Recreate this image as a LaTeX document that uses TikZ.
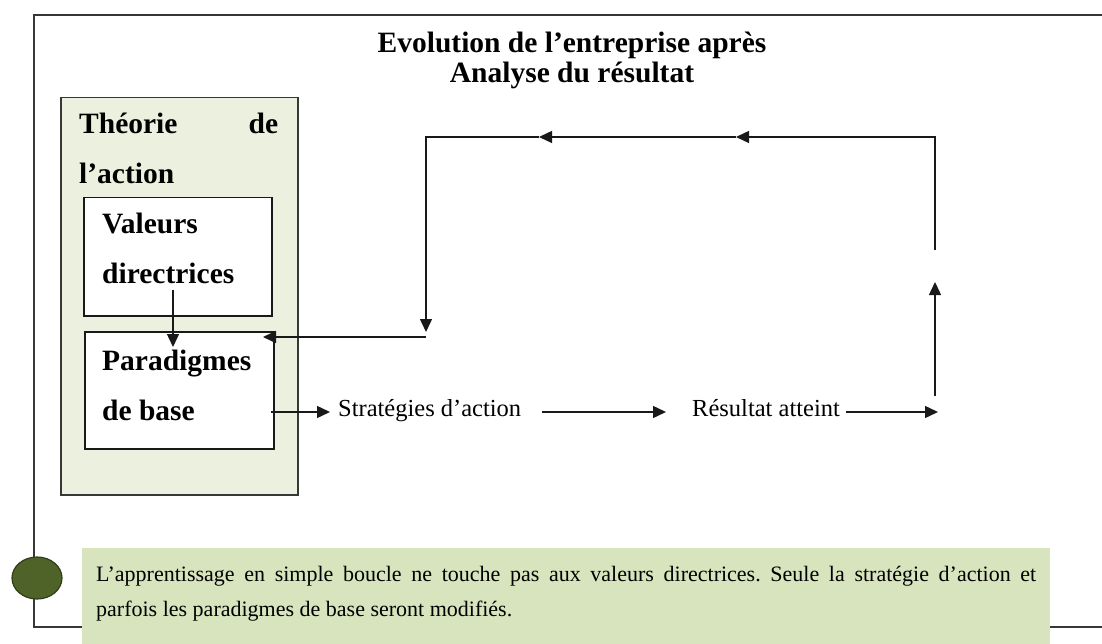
\documentclass[tikz,border=0pt]{standalone}
\usepackage{fontspec}
\setmainfont{Liberation Serif}
\usetikzlibrary{arrows.meta,shapes.geometric}
\definecolor{theorybg}{RGB}{235,241,222}
\definecolor{notebg}{RGB}{215,228,189}
\definecolor{olivedark}{RGB}{79,98,40}
\definecolor{olivebord}{RGB}{50,62,25}
\definecolor{ink}{RGB}{25,25,25}
\definecolor{framec}{RGB}{55,55,55}
\frenchspacing
\begin{document}
\begin{tikzpicture}[x=1pt,y=-1pt,
  arr/.style={draw=ink, line width=1.4pt, -{Triangle[length=13pt,width=12pt]}},
  framel/.style={draw=framec, line width=2pt},
  theorybox/.style={draw=framec, line width=1.5pt, fill=theorybg, inner sep=0pt},
  innerbox/.style={draw=ink, line width=1.5pt, fill=white, inner sep=0pt},
  notebox/.style={fill=notebg, inner sep=0pt},
  dot/.style={ellipse, draw=olivebord, line width=1.2pt, fill=olivedark, inner sep=0pt},
  titlef/.style={font=\fontsize{29.5}{30}\selectfont\bfseries, inner sep=0pt},
  boldlbl/.style={font=\fontsize{29.5}{50}\selectfont\bfseries, inner sep=0pt},
  reglbl/.style={font=\fontsize{24.5}{28}\selectfont, inner sep=0pt},
  notetxt/.style={font=\fontsize{22}{35}\selectfont, inner sep=0pt}]
\useasboundingbox (0,0) rectangle (1102,644);
\clip (0,0) rectangle (1102,644);
% outer frame
\draw[framel] (1110,15) -- (34,15) -- (34,627) -- (1110,627);
% title
\node[titlef, anchor=base] (title) at (572,53)
  {\parbox[t]{600pt}{\centering Evolution de l’entreprise après\\Analyse du résultat}};
% theory box
\node[theorybox, anchor=north west, minimum width=237pt, minimum height=397pt] (theory) at (60,97) {};
\node[innerbox, anchor=north west, minimum width=188pt, minimum height=118pt] (valeurs) at (83,197) {};
\node[innerbox, anchor=north west, minimum width=189pt, minimum height=117pt] (paradigmes) at (84,331) {};
\node[boldlbl, anchor=base west] (theoryT) at (79,134)
  {\parbox[t]{199pt}{\makebox[199pt][s]{Théorie de}\\l’action}};
\node[boldlbl, anchor=base west] (valeursT) at (102,234)
  {\parbox[t]{160pt}{Valeurs\\directrices}};
\node[boldlbl, anchor=base west] (paradigmesT) at (102,370)
  {\parbox[t]{160pt}{Paradigmes\\de base}};
% bottom row labels
\node[reglbl, anchor=base west] (strat) at (338,416) {Stratégies d’action};
\node[reglbl, anchor=base west] (res) at (692,416) {Résultat atteint};
% loop coordinates
\coordinate (vStart) at (173,290);
\coordinate (vEnd) at (173,347);
\coordinate (pOut) at (271,412);
\coordinate (sIn) at (330,412);
\coordinate (sOut) at (542,412);
\coordinate (rIn) at (666,412);
\coordinate (rOut) at (846,412);
\coordinate (bR) at (938,412);
\coordinate (upS) at (935,396);
\coordinate (upT) at (935,282);
\coordinate (rEnd) at (935,250);
\coordinate (rTop) at (935,137);
\coordinate (m2) at (736,137);
\coordinate (m1) at (539,137);
\coordinate (lTop) at (426,137);
\coordinate (dTip) at (426,332);
\coordinate (fb) at (426,337);
\coordinate (fbTip) at (263,337);
% connectors
\draw[arr] (vStart) -- (vEnd);
\draw[arr] (pOut) -- (sIn);
\draw[arr] (sOut) -- (rIn);
\draw[arr] (rOut) -- (bR);
\draw[arr] (upS) -- (upT);
\draw[arr] (rEnd) -- (rTop) -- (m2);
\draw[arr] (m2) -- (m1);
\draw[arr] (m1) -- (lTop) -- (dTip);
\draw[arr] (fb) -- (fbTip);
% note
\node[dot, minimum width=50pt, minimum height=42pt] (dotn) at (37,578) {};
\node[notebox, anchor=north west, minimum width=968pt, minimum height=110pt] (note) at (82,548) {};
\node[notetxt, anchor=base west] (noteT) at (96,581)
  {\parbox[t]{940pt}{L’apprentissage en simple boucle ne touche pas aux valeurs directrices. Seule la stratégie d’action et\linebreak parfois les paradigmes de base seront modifiés.}};
\end{tikzpicture}
\end{document}
